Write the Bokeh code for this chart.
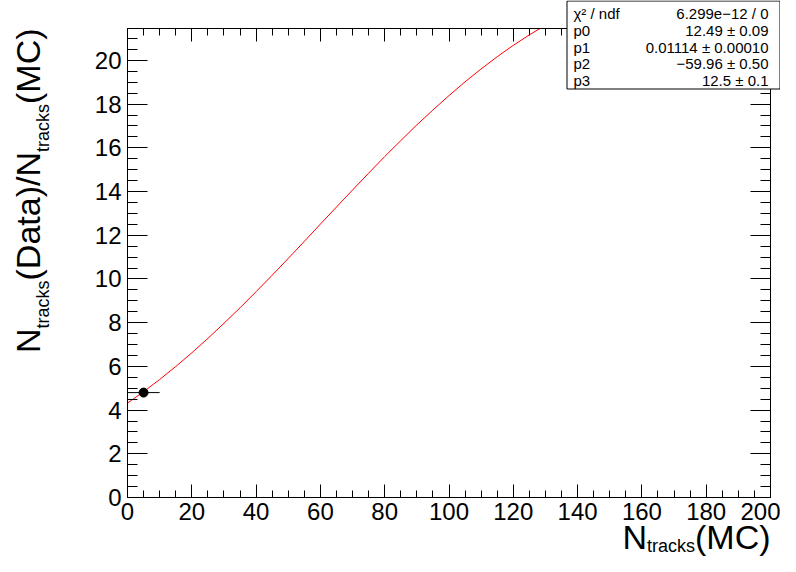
from bokeh.plotting import figure
from bokeh.models import (Range1d, LinearAxis, SingleIntervalTicker, Label, BoxAnnotation,
                          CustomJSTickFormatter)
from bokeh.embed import file_html
from bokeh.resources import INLINE

# ---------------- data ----------------
fit_x = [0, 5, 10, 15, 20, 25, 30, 35, 40, 45, 50, 55, 60, 65,
         70, 75, 80, 85, 90, 95, 100, 105, 110, 115, 120, 125, 128.3]
fit_y = [4.32, 4.84, 5.40, 5.99, 6.62, 7.28, 7.97, 8.68, 9.42, 10.17, 10.94, 11.72, 12.51, 13.29,
         14.07, 14.84, 15.60, 16.33, 17.05, 17.73, 18.39, 19.02, 19.61, 20.17, 20.69, 21.17, 21.46]

point_x = [5.0]
point_y = [4.8]
point_xerr = [5.0]

stat_names = ["\u03c7\u00b2 / ndf", "p0", "p1", "p2", "p3"]
stat_values = ["6.299e\u221212 / 0", "12.49 \u00b1 0.09", "0.01114 \u00b1 0.00010",
               "\u221259.96 \u00b1 0.50", "12.5 \u00b1 0.1"]

x_min, x_max = 0, 200
y_min, y_max = 0, 21.46
x_tick_step, y_tick_step = 20, 2

# ---------------- layout helpers (canvas pixels -> data) ----------------
W, H = 780, 556
FL, FR, FT, FB = 127, 770, 28, 497      # plot box edges in canvas pixels
def dx(px):
    return x_min + (px - FL) / (FR - FL) * (x_max - x_min)
def dy(py):
    return y_min + (FB - py) / (FB - FT) * (y_max - y_min)

FONT = "Liberation Sans"
MID = 0.35   # baseline offset of a "middle" anchored text, in em
ADV = {"N": 722, "t": 278, "r": 333, "a": 556, "c": 500, "k": 500, "s": 500,
       "(": 333, ")": 333, "M": 833, "C": 722, "D": 722, "/": 278}
def width(txt, size):
    return sum(ADV[c] for c in txt) / 1000.0 * size

p = figure(width=W, height=H, output_backend="svg", toolbar_location=None,
           x_range=Range1d(dx(0), dx(W)), y_range=Range1d(dy(H), dy(0)),
           min_border=0)
p.title.visible = False
p.grid.visible = False
p.outline_line_color = None
p.background_fill_color = "white"
p.border_fill_color = "white"

def style_axis(ax, major, minor, labels=True, standoff=3):
    ax.major_tick_in = major
    ax.major_tick_out = 0
    ax.minor_tick_in = minor
    ax.minor_tick_out = 0
    ax.axis_line_color = "black"
    ax.major_tick_line_color = "black"
    ax.minor_tick_line_color = "black"
    ax.major_label_text_font = FONT
    ax.major_label_text_font_size = "24px"
    ax.major_label_text_color = "black"
    ax.major_label_standoff = standoff
    if not labels:
        ax.formatter = CustomJSTickFormatter(code="return ''")
        ax.major_label_standoff = 0

xa = p.xaxis[0]
xa.ticker = SingleIntervalTicker(interval=x_tick_step, num_minor_ticks=4)
xa.fixed_location = y_min
xa.bounds = (x_min, x_max)
style_axis(xa, 13, 7, True, 5)

ya = p.yaxis[0]
ya.ticker = SingleIntervalTicker(interval=y_tick_step, num_minor_ticks=4)
ya.fixed_location = x_min
ya.bounds = (y_min, y_max)
style_axis(ya, 20, 10, True, 6)

ra = LinearAxis(ticker=SingleIntervalTicker(interval=y_tick_step, num_minor_ticks=4),
                fixed_location=x_max, bounds=(y_min, y_max))
style_axis(ra, 20, 10, False)
p.add_layout(ra, "right")
ta = LinearAxis(ticker=SingleIntervalTicker(interval=x_tick_step, num_minor_ticks=4),
                fixed_location=y_max, bounds=(x_min, x_max))
style_axis(ta, 13, 7, False)
p.add_layout(ta, "above")

# fit curve
p.line(fit_x, fit_y, line_color="red", line_width=1)

# data point with horizontal error bar
p.segment(x0=[x - e for x, e in zip(point_x, point_xerr)], y0=point_y,
          x1=[x + e for x, e in zip(point_x, point_xerr)], y1=point_y,
          line_color="black", line_width=1)
p.scatter(point_x, point_y, size=9, color="black")

# statistics box
box = BoxAnnotation(left=dx(566.5), right=dx(779.5), top=dy(0.5), bottom=dy(88.5),
                    fill_color="white", fill_alpha=1.0, line_color="black",
                    line_alpha=1.0, line_width=1)
p.add_layout(box)
row_y = [12.5, 29.5, 46.5, 63, 80]
for name, val, ry in zip(stat_names, stat_values, row_y):
    p.add_layout(Label(x=dx(573), y=dy(ry), text=name, text_font=FONT,
                       text_font_size="15px", text_align="left",
                       text_baseline="middle", text_color="black"))
    p.add_layout(Label(x=dx(768), y=dy(ry), text=val, text_font=FONT,
                       text_font_size="15px", text_align="right",
                       text_baseline="middle", text_color="black"))

# axis titles built from pieces (big / subscript)
BIG, SUB = 34, 18
# x title: right-aligned at the plot box end
base_x = 548
pieces_x = [("N", BIG, 0), ("tracks", SUB, 4), ("(MC)", BIG, 0)]
total = sum(width(t, s) for t, s, _ in pieces_x)
cx = FR - total
for t, s, off in pieces_x:
    p.add_layout(Label(x=dx(cx), y=dy(base_x + off - MID * s), text=t, text_font=FONT,
                       text_font_size=f"{s}px", text_align="left",
                       text_baseline="middle", text_color="black"))
    cx += width(t, s)

# y title: rotated, ending at the plot box top
base_y = 39
pieces_y = [("N", BIG, 0), ("tracks", SUB, 10), ("(Data)/N", BIG, 0),
            ("tracks", SUB, 10), ("(MC)", BIG, 0)]
total = sum(width(t, s) for t, s, _ in pieces_y)
cy = FT + total
for t, s, off in pieces_y:
    p.add_layout(Label(x=dx(base_y + off - MID * s), y=dy(cy), text=t, text_font=FONT,
                       text_font_size=f"{s}px", text_align="left", angle=90,
                       angle_units="deg", text_baseline="middle",
                       text_color="black"))
    cy -= width(t, s)

open("out.html", "w").write(file_html(p, INLINE))
